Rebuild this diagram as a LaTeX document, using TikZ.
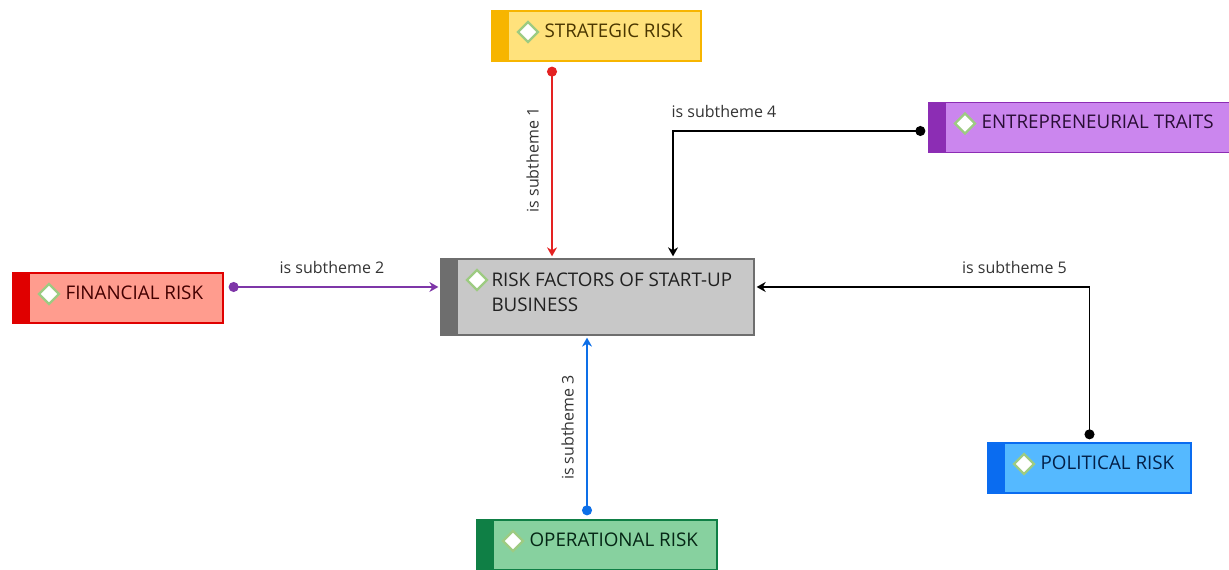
\documentclass[tikz,border=0pt]{standalone}
\usepackage{fontspec}
\setmainfont{Open Sans}
\usepackage{tikz}
\usetikzlibrary{positioning,arrows.meta}

\definecolor{stratstripe}{HTML}{F7B500}
\definecolor{stratfill}{HTML}{FFE27C}
\definecolor{censtripe}{HTML}{6E6E6E}
\definecolor{cenfill}{HTML}{C8C8C8}
\definecolor{finstripe}{HTML}{E00000}
\definecolor{finfill}{HTML}{FF9C8E}
\definecolor{entstripe}{HTML}{8C2DB4}
\definecolor{entfill}{HTML}{CB86EE}
\definecolor{polstripe}{HTML}{0A6CF0}
\definecolor{polfill}{HTML}{55B9FF}
\definecolor{opstripe}{HTML}{0F7F45}
\definecolor{opfill}{HTML}{87D19F}
\definecolor{iconedge}{HTML}{9DCB82}
\definecolor{redlink}{HTML}{E42222}
\definecolor{purplelink}{HTML}{7E36A8}
\definecolor{bluelink}{HTML}{0D6FE8}

\begin{document}
\begin{tikzpicture}[%
		x=1pt, y=1pt,
		>={Stealth[length=9pt,width=10pt]},
		theme/.style n args={3}{%
			draw=#1,
			fill=#2,
			line width=1.3pt,
			minimum width=#3,
			minimum height=50pt,
			inner sep=0pt,
			path picture={%
				\fill[#1] (path picture bounding box.south west) rectangle ([xshift=17pt]path picture bounding box.north west);
				\draw[draw=iconedge, fill=white, line width=2.2pt] ([xshift=36pt,yshift=-21pt]path picture bounding box.north west)
					+(0,10pt) -- +(10pt,0) -- +(0,-10pt) -- +(-10pt,0) -- cycle;
			}
		},
		caption/.style={%
			anchor=base west,
			inner sep=0pt,
			align=left,
			text=#1!30!black,
			font=\fontsize{18.8}{25}\selectfont
		},
		link/.style={draw=#1, line width=1.3pt, shorten >=2pt, {Circle[length=10pt]}->},
		tag/.style={font=\fontsize{16}{18}\selectfont, text=black!80, inner xsep=2pt, inner ysep=12.5pt}
		]
		\useasboundingbox (0,0) rectangle (1229,570);

		\node[theme={censtripe}{cenfill}{313pt}, minimum height=76pt] (cen) at (597.5,273) {};
		\node[theme={stratstripe}{stratfill}{209pt}] (strat) at (596.5,534) {};
		\node[theme={finstripe}{finfill}{210pt}]     (fin)   at (118,272) {};
		\node[theme={entstripe}{entfill}{303pt}]     (ent)   at (1080.5,442.5) {};
		\node[theme={polstripe}{polfill}{203pt}]     (pol)   at (1089.5,102) {};
		\node[theme={opstripe}{opfill}{240pt}]       (oper)  at (597,25) {};

		% the base of a two-line caption is its last line
		\node[caption=censtripe]   (centext)   at ([xshift=51pt,yshift=-53pt]cen.north west)   {RISK FACTORS OF START-UP\\BUSINESS};
		\node[caption=stratstripe] (strattext) at ([xshift=53pt,yshift=-27pt]strat.north west) {STRATEGIC RISK};
		\node[caption=finstripe]   (fintext)   at ([xshift=53pt,yshift=-27pt]fin.north west)   {FINANCIAL RISK};
		\node[caption=entstripe]   (enttext)   at ([xshift=53pt,yshift=-27pt]ent.north west)   {ENTREPRENEURIAL TRAITS};
		\node[caption=polstripe]   (poltext)   at ([xshift=53pt,yshift=-27pt]pol.north west)   {POLITICAL RISK};
		\node[caption=opstripe]    (opertext)  at ([xshift=53pt,yshift=-27pt]oper.north west)  {OPERATIONAL RISK};

		\draw[link=redlink, shorten <=5pt] ([xshift=-44.5pt]strat.south) -- ([xshift=-44.5pt]strat.south |- cen.north)
			node[tag, midway, rotate=90, anchor=south] (lab1) {is subtheme 1};
		\draw[link=purplelink, shorten <=5pt] ([yshift=11pt]fin.east) -- ([yshift=11pt]fin.east -| cen.west)
			node[tag, midway, above] (lab2) {is subtheme 2};
		\draw[link=bluelink, shorten <=4pt] ([xshift=-10pt]oper.north) -- ([xshift=-10pt]oper.north |- cen.south)
			node[tag, midway, rotate=90, anchor=south] (lab3) {is subtheme 3};
		\draw[link=black, shorten <=3pt] ([yshift=-3.5pt]ent.west) -| ([xshift=75.5pt]cen.north)
			node[tag, pos=0.5, anchor=south west, xshift=-4pt] (lab4) {is subtheme 4};
		\draw[link=black, shorten <=3pt] (pol.north) |- ([yshift=10pt]cen.east)
			node[tag, pos=0.5, anchor=south east, xshift=-20pt] (lab5) {is subtheme 5};
		\end{tikzpicture}
\end{document}
